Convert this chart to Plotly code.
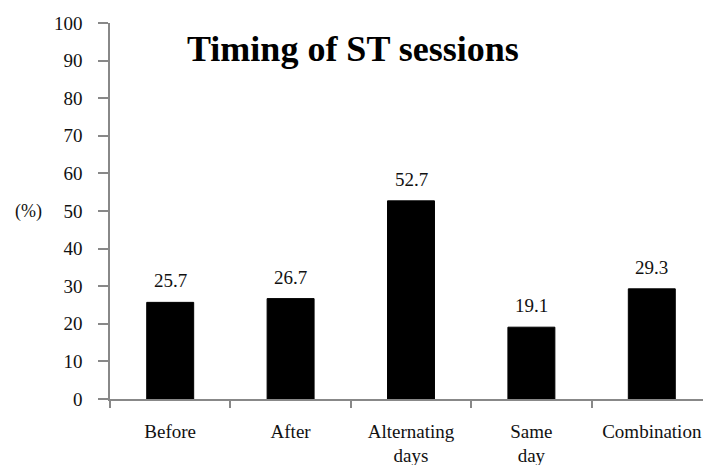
import plotly.graph_objects as go

categories = ["Before", "After", "Alternating<br>days", "Same<br>day", "Combination"]
values = [25.7, 26.7, 52.7, 19.1, 29.3]
value_labels = ["25.7", "26.7", "52.7", "19.1", "29.3"]
y_ticks = [0, 10, 20, 30, 40, 50, 60, 70, 80, 90, 100]

FONT = "Liberation Serif, Times New Roman, serif"
W, H = 703, 465
L, R, T, B = 110, 0, 23, 66
pw, ph = W - L - R, H - T - B

xs = list(range(len(categories)))

fig = go.Figure(
    go.Bar(
        x=xs,
        y=values,
        marker=dict(color="black", line=dict(color="black", width=1)),
        width=0.39,
    )
)

for x, v, t in zip(xs, values, value_labels):
    fig.add_annotation(x=x, y=v, text=t, showarrow=False, xanchor="center", yanchor="bottom",
                       yshift=9, font=dict(family=FONT, size=19, color="#111"))

def px_to_paper(px, py):
    return (px - L) / pw, 1 - (py - T) / ph

tx, ty = px_to_paper(353, 49)
fig.add_annotation(text="<b>Timing of ST sessions</b>", x=tx, y=ty, xref="paper", yref="paper",
                   showarrow=False, xanchor="center", yanchor="middle",
                   font=dict(family=FONT, size=36, color="black"))
px_, py_ = px_to_paper(28, 211)
fig.add_annotation(text="(%)", x=px_, y=py_, xref="paper", yref="paper",
                   showarrow=False, xanchor="center", yanchor="middle",
                   font=dict(family=FONT, size=18, color="#111"))

fig.update_layout(
    width=W,
    height=H,
    margin=dict(l=L, r=R, t=T, b=B, autoexpand=False),
    plot_bgcolor="white",
    paper_bgcolor="white",
    showlegend=False,
    font=dict(family=FONT, color="#111"),
)

fig.update_xaxes(
    range=[-0.5, 4.5 - 9 / 120.5],
    tickmode="array",
    tickvals=xs,
    ticktext=categories,
    showline=True,
    linecolor="#888",
    linewidth=1.5,
    ticks="",
    showgrid=False,
    zeroline=False,
    automargin=False,
    tickfont=dict(family=FONT, size=19, color="#111"),
    ticklabelstandoff=14,
    minor=dict(tickmode="array", tickvals=[-0.5, 0.5, 1.5, 2.5, 3.5], ticks="outside",
               ticklen=7, tickcolor="#888", tickwidth=1.5),
)
fig.update_yaxes(
    range=[0, 100],
    tickmode="array",
    tickvals=y_ticks,
    showline=True,
    linecolor="#888",
    linewidth=1.5,
    ticks="outside",
    ticklen=10,
    tickcolor="#888",
    tickwidth=1.5,
    showgrid=False,
    zeroline=False,
    automargin=False,
    tickfont=dict(family=FONT, size=19, color="#111"),
    ticklabelstandoff=12,
)

fig.write_html(
    "out.html",
    config={"displayModeBar": False},
    post_script="document.body.style.margin='0';document.body.style.overflow='hidden';",
)
